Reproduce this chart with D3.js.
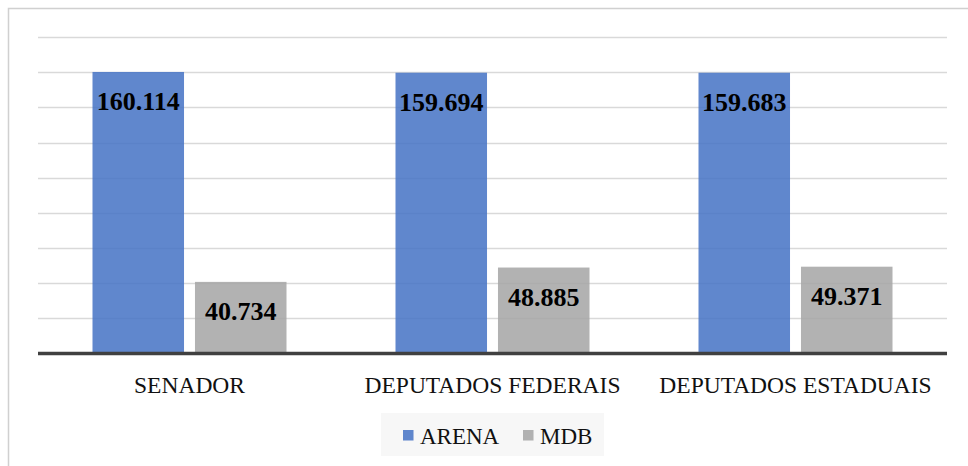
<!DOCTYPE html>
<html>
<head>
<meta charset="utf-8">
<script src="https://cdn.jsdelivr.net/npm/d3@7"></script>
<style>
  body { margin: 0; background: #fff; }
  svg { display: block; font-family: "Liberation Serif", serif; }
</style>
</head>
<body>
<svg id="chart"></svg>
<script>
// Data
const categories = ["SENADOR", "DEPUTADOS FEDERAIS", "DEPUTADOS ESTADUAIS"];
const seriesNames = ["ARENA", "MDB"];
const arenaValues = [160114, 159694, 159683];
const mdbValues = [40734, 48885, 49371];
const yTicks = [20000, 40000, 60000, 80000, 100000, 120000, 140000, 160000, 180000];

const colors = { ARENA: "#4472C4", MDB: "#A5A5A5" };

const width = 968, height = 466;
const plot = { left: 38, right: 947, top: 37, bottom: 353.5 };
const groupWidth = 194;

const svg = d3.select("#chart").attr("width", width).attr("height", height);

// outer frame (only left and top edges visible)
svg.append("path")
  .attr("d", `M8.5,${height} V8.5 H${width}`)
  .attr("fill", "none")
  .attr("stroke", "#d0d0d0")
  .attr("stroke-width", 1.5);

const x0 = d3.scaleBand().domain(categories).range([plot.left, plot.right]);
const x1 = d3.scaleBand().domain(seriesNames).range([0, groupWidth]).paddingInner(0.107);
const y = d3.scaleLinear().domain([0, 180000]).range([plot.bottom, plot.top]);

const ptBR = d3.formatLocale({ decimal: ",", thousands: ".", grouping: [3], currency: ["R$", ""] });
const fmt = ptBR.format(",d");

// gridlines
svg.append("g")
  .selectAll("line")
  .data(yTicks)
  .join("line")
  .attr("x1", plot.left)
  .attr("x2", plot.right)
  .attr("y1", d => Math.round(y(d)) + 0.5)
  .attr("y2", d => Math.round(y(d)) + 0.5)
  .attr("stroke", "#d9d9d9")
  .attr("stroke-width", 1.5);

const rows = categories.map((c, i) => ({
  category: c,
  values: [
    { series: "ARENA", value: arenaValues[i] },
    { series: "MDB", value: mdbValues[i] }
  ]
}));

const groups = svg.append("g")
  .selectAll("g")
  .data(rows)
  .join("g")
  .attr("transform", d => `translate(${x0(d.category) + (x0.bandwidth() - groupWidth) / 2},0)`);

groups.selectAll("rect")
  .data(d => d.values)
  .join("rect")
  .attr("x", d => x1(d.series))
  .attr("width", x1.bandwidth())
  .attr("y", d => y(d.value))
  .attr("height", d => y(0) - y(d.value))
  .attr("fill", d => colors[d.series])
  .attr("fill-opacity", 0.85);

// data labels
groups.selectAll("text")
  .data(d => d.values)
  .join("text")
  .attr("x", d => x1(d.series) + x1.bandwidth() / 2)
  .attr("y", d => y(d.value) + 38)
  .attr("text-anchor", "middle")
  .attr("font-size", 26)
  .attr("font-weight", "bold")
  .attr("fill", "#000")
  .text(d => fmt(d.value));

// baseline
svg.append("line")
  .attr("x1", plot.left)
  .attr("x2", plot.right)
  .attr("y1", plot.bottom)
  .attr("y2", plot.bottom)
  .attr("stroke", "#404040")
  .attr("stroke-width", 3.5);

// category axis
const xAxis = svg.append("g")
  .attr("transform", `translate(0,${plot.bottom})`)
  .call(d3.axisBottom(x0).tickSize(0).tickPadding(23));
xAxis.attr("font-family", null).attr("font-size", null);
xAxis.select(".domain").remove();
xAxis.selectAll("text")
  .attr("font-size", 23.5)
  .attr("fill", "#111");

// legend
const legend = svg.append("g");
legend.append("rect")
  .attr("x", 381).attr("y", 413)
  .attr("width", 223).attr("height", 43)
  .attr("fill", "#f7f7f7");

const legendX = [403, 523];
seriesNames.forEach((s, i) => {
  legend.append("rect")
    .attr("x", legendX[i]).attr("y", 430)
    .attr("width", 10.5).attr("height", 10.5)
    .attr("fill", colors[s])
    .attr("fill-opacity", 0.85);
  legend.append("text")
    .attr("x", legendX[i] + 17)
    .attr("y", 443.5)
    .attr("font-size", 23)
    .attr("fill", "#111")
    .text(s);
});
</script>
</body>
</html>
